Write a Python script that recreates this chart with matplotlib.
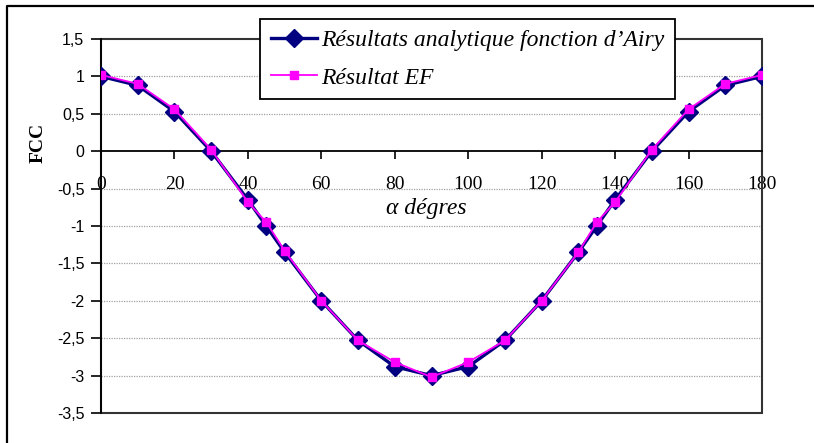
#!/usr/bin/env python
"""FCC vs alpha: analytic Airy solution against FE result."""
import matplotlib
matplotlib.use("Agg")
import matplotlib.pyplot as plt
from matplotlib.lines import Line2D
from matplotlib.patches import Rectangle

alpha = [0, 10, 20, 30, 40, 45, 50, 60, 70, 80, 90,
         100, 110, 120, 130, 135, 140, 150, 160, 170, 180]
fcc_airy = [1.0, 0.88, 0.53, 0.0, -0.65, -1.0, -1.35, -2.0, -2.53, -2.88, -3.0,
            -2.88, -2.53, -2.0, -1.35, -1.0, -0.65, 0.0, 0.53, 0.88, 1.0]
fcc_ef = [1.02, 0.9, 0.56, 0.02, -0.68, -0.95, -1.33, -2.0, -2.53, -2.82, -3.02,
          -2.82, -2.53, -2.0, -1.35, -0.95, -0.68, 0.02, 0.56, 0.9, 1.02]

xticks = [0, 20, 40, 60, 80, 100, 120, 140, 160, 180]
yticks = [1.5, 1, 0.5, 0, -0.5, -1, -1.5, -2, -2.5, -3, -3.5]
ytick_labels = ["1,5", "1", "0,5", "0", "-0,5", "-1", "-1,5", "-2", "-2,5", "-3", "-3,5"]

SERIF = "Liberation Serif"
SANS = "Liberation Sans"

W, H = 814, 443
fig = plt.figure(figsize=(W / 100, H / 100), dpi=100)
ax = fig.add_axes([101 / W, 1 - 413 / H, 661 / W, 374 / H])

ax.plot(alpha, fcc_airy, color="#000080", lw=2.4, marker="D", ms=9,
        mfc="#000080", mec="#000080", label="Résultats analytique fonction d\u2019Airy", zorder=3)
ax.plot(alpha, fcc_ef, color="#FF00FF", lw=1.3, marker="s", ms=6,
        mfc="#FF00FF", mec="#FF00FF", label="Résultat EF", zorder=4)

ax.set_xlim(0, 180)
ax.set_ylim(-3.5, 1.5)

# x axis sits at y = 0 like in Excel
for side in ("top", "right"):
    ax.spines[side].set_visible(False)
ax.spines["bottom"].set_position(("data", 0))
ax.spines["bottom"].set_linewidth(1.3)
ax.spines["left"].set_linewidth(1.3)
ax.add_patch(Rectangle((0, 0), 1, 1, transform=ax.transAxes, fill=False,
                       edgecolor="#333333", lw=1.5, zorder=2, clip_on=False))

ax.set_xticks(xticks)
ax.set_xticklabels([str(v) for v in xticks], fontfamily=SERIF, fontsize=14)
ax.tick_params(axis="x", direction="out", length=6, width=1.2, pad=12)
ax.set_yticks(yticks)
ax.set_yticklabels(ytick_labels, fontfamily=SANS, fontsize=11.5)
ax.tick_params(axis="y", direction="out", length=7, width=1.2, pad=5)

for y in yticks[1:-1]:
    if y != 0:
        ax.axhline(y, color="#a0a0a0", lw=0.9, ls=(0, (1, 1)), zorder=1)

ax.set_ylabel("FCC", fontfamily=SERIF, fontweight="bold", fontsize=14)
ax.yaxis.set_label_coords(-54 / 661, (413 - 143) / 374)
ax.text(88.5, -0.77, "\u03b1 dégres", fontfamily=SERIF, style="italic",
        fontsize=17, ha="center", va="center")

leg = ax.legend(loc="upper left", bbox_to_anchor=(260 / W, 1 - 19 / H),
                bbox_transform=fig.transFigure, prop={"family": SERIF, "style": "italic", "size": 17},
                frameon=True, fancybox=False, edgecolor="black", framealpha=1,
                handlelength=1.95, handletextpad=0.2, labelspacing=0.68, borderpad=0.45,
                borderaxespad=0)
leg.get_frame().set_linewidth(1.3)
leg.set_zorder(10)

# outer chart border (right and bottom edges fall outside the image)
fig.add_artist(Line2D([7 / W, 7 / W, 1.01], [-0.01, 1 - 6 / H, 1 - 6 / H],
                      transform=fig.transFigure, color="black", lw=1.6))

fig.savefig("out.png", dpi=100)
